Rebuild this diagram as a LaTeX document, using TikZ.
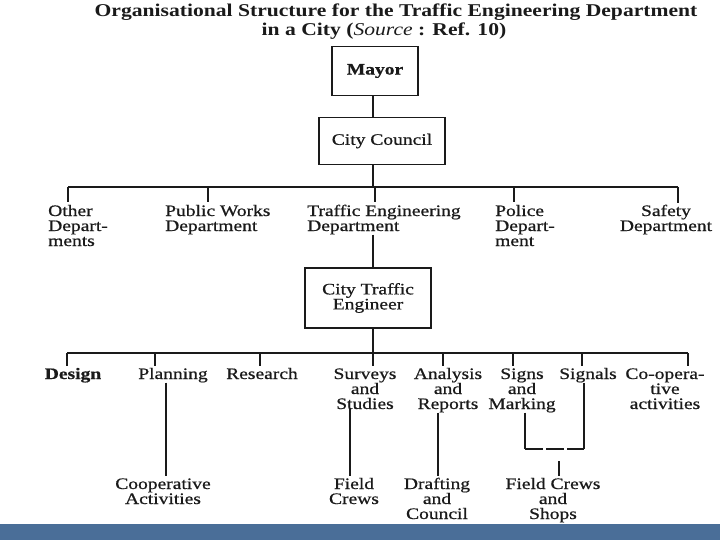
\documentclass[tikz,border=0pt]{standalone}
\usepackage{fontspec}
\setmainfont[FakeStretch=1.22, FakeBold=0.7]{Liberation Serif}
\newfontfamily\ttlfont[FakeStretch=1.2]{Liberation Serif}
\definecolor{inkDark}{HTML}{1A1A1A}
\definecolor{barBlue}{HTML}{4A6E98}

\begin{document}
\begin{tikzpicture}[
    x=1pt, y=-1pt,
    ttl/.style={font=\ttlfont\bfseries\fontsize{18}{20}\selectfont\color{inkDark}, inner sep=0pt},
    unit/.style={font=\fontsize{16}{15}\selectfont\color{inkDark}, inner sep=0pt, align=#1},
    unit/.default=center,
    post/.style={rectangle, draw=inkDark, line width=1.3pt, align=center, inner sep=0pt,
                 font=\fontsize{16}{15}\selectfont\color{inkDark}},
    lnk/.style={draw=inkDark, line width=1.2pt},
  ]
    \useasboundingbox (0,0) rectangle (720,540);
    \fill[barBlue] (0,524) rectangle (720,540);

    % heading
    \node[ttl, anchor=base] (ttlA) at (396,17) {Organisational Structure for the Traffic Engineering Department};
    \node[ttl, anchor=base] (ttlB) at (384,36) {in a City ({\mdseries\itshape Source} : Ref. 10)};

    % top of the chain
    \coordinate (spn) at (373,0);
    \node[post, minimum width=86pt, minimum height=49pt] (mayor) at (375,71) {\bfseries Mayor};
    \node[post, minimum width=126pt, minimum height=47pt] (cncl) at (382,141) {City Council};
    \draw[lnk] (mayor.south -| spn) -- (cncl.north -| spn);

    % departments (base = last line)
    \coordinate (hub1) at (373,187);
    \coordinate (d1) at (68,187);
    \coordinate (d2) at (208,187);
    \coordinate (d3) at (375,187);
    \coordinate (d4) at (514,187);
    \coordinate (d5) at (678,187);
    \draw[lnk] (cncl.south -| spn) -- (hub1);
    \draw[lnk] (d1) -- (d5);

    \node[unit=left, anchor=base west] (othr) at (48,246) {Other\\Depart-\\ments};
    \node[unit=left, anchor=base west] (pubw) at (165,231) {Public Works\\Department};
    \node[unit=left, anchor=base west] (tedp) at (307,231) {Traffic Engineering\\Department};
    \node[unit=left, anchor=base west] (polc) at (495,246) {Police\\Depart-\\ment};
    \node[unit, anchor=base] (safe) at (666,231) {Safety\\Department};

    \draw[lnk, shorten >=3pt] (d1) -- (d1 |- othr.north);
    \draw[lnk, shorten >=3pt] (d2) -- (d2 |- pubw.north);
    \draw[lnk, shorten >=3pt] (d3) -- (d3 |- tedp.north);
    \draw[lnk, shorten >=3pt] (d4) -- (d4 |- polc.north);
    \draw[lnk, shorten >=2pt] (d5) -- (d5 |- safe.north);

    % city traffic engineer
    \node[post, minimum width=126pt, minimum height=60pt] (cte) at (368,298) {City Traffic\\Engineer};
    \draw[lnk] (tedp.south -| spn) -- (cte.north -| spn);

    % sections
    \coordinate (hub2) at (373,353);
    \coordinate (e1) at (67,353);
    \coordinate (e2) at (155,353);
    \coordinate (e3) at (260,353);
    \coordinate (e4) at (373,353);
    \coordinate (e5) at (443,353);
    \coordinate (e6) at (513,353);
    \coordinate (e7) at (582,353);
    \coordinate (e8) at (688,353);
    \draw[lnk] (cte.south -| spn) -- (hub2);
    \draw[lnk] (e1) -- (e8);

    \node[unit, anchor=base] (dsgn) at (73,379) {\bfseries Design};
    \node[unit, anchor=base] (plan) at (173,379) {Planning};
    \node[unit, anchor=base] (rsch) at (262,379) {Research};
    \node[unit, anchor=base] (srvy) at (365,409) {Surveys\\and\\Studies};
    \node[unit, anchor=base] (anly) at (448,409) {Analysis\\and\\Reports};
    \node[unit, anchor=base] (sign) at (522,409) {Signs\\and\\Marking};
    \node[unit, anchor=base] (sgnl) at (588,379) {Signals};
    \node[unit, anchor=base] (coop) at (665,409) {Co-opera-\\tive\\activities};

    \draw[lnk, shorten >=2pt] (e1) -- (e1 |- dsgn.north);
    \draw[lnk, shorten >=2pt] (e2) -- (e2 |- plan.north);
    \draw[lnk, shorten >=2pt] (e3) -- (e3 |- rsch.north);
    \draw[lnk, shorten >=2pt] (e4) -- (e4 |- srvy.north);
    \draw[lnk, shorten >=2pt] (e5) -- (e5 |- anly.north);
    \draw[lnk, shorten >=2pt] (e6) -- (e6 |- sign.north);
    \draw[lnk, shorten >=2pt] (e7) -- (e7 |- sgnl.north);
    \draw[lnk, shorten >=2pt] (e8) -- (e8 |- coop.north);

    % field units
    \node[unit, anchor=base] (cact) at (163,504) {Cooperative\\Activities};
    \node[unit, anchor=base] (fcrw) at (354,504) {Field\\Crews};
    \node[unit, anchor=base] (drft) at (437,519) {Drafting\\and\\Council};
    \node[unit, anchor=base] (fcsh) at (553,519) {Field Crews\\and\\Shops};

    \coordinate (f1) at (166,0);
    \coordinate (f2) at (350,0);
    \coordinate (f3) at (438,0);
    \coordinate (jL) at (525,449);
    \coordinate (jM) at (559,449);
    \coordinate (jR) at (584,449);
    \draw[lnk, shorten >=2pt] (f1 |- plan.south) -- (f1 |- cact.north);
    \draw[lnk, shorten >=2pt] (f2 |- srvy.south) -- (f2 |- fcrw.north);
    \draw[lnk, shorten >=2pt] (f3 |- anly.south) -- (f3 |- drft.north);
    \draw[lnk] (sign.south -| jL) -- (jL);
    \draw[lnk] (sgnl.south -| jR) -- (jR);
    \draw[lnk, dash pattern=on 18pt off 3pt] (jL) -- (jR);
    \draw[lnk, shorten <=12pt, shorten >=2pt] (jM) -- (fcsh.north -| jM);
\end{tikzpicture}
\end{document}
